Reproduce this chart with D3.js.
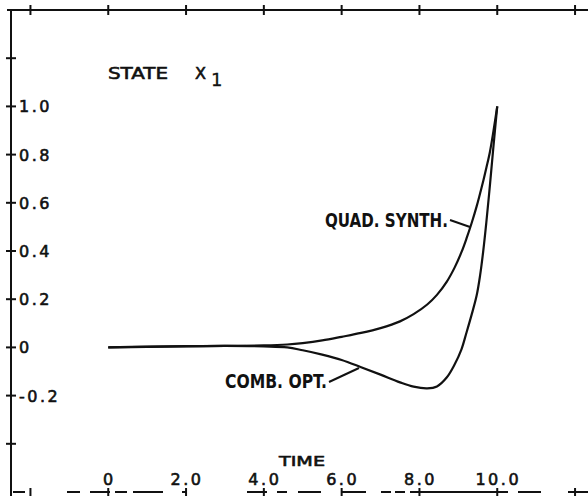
<!DOCTYPE html>
<html>
<head>
  <meta charset="utf-8">
  <script src="https://d3js.org/d3.v7.min.js"></script>
  <style>
    body { margin: 0; background: #fff; }
    svg { display: block; }
    .axis-line { stroke: #111; stroke-width: 2; fill: none; }
    .tick-mark { stroke: #111; stroke-width: 2; }
    .curve { fill: none; stroke: #111; stroke-width: 2.2; }
    .pointer { stroke: #111; stroke-width: 2; }
    .plot-text { font-family: "DejaVu Sans", sans-serif; fill: #111; stroke: #111; stroke-width: 0.6px; }
    .curve-label { font-family: "Liberation Sans Narrow", "DejaVu Sans Condensed", "Liberation Sans", sans-serif; font-weight: bold; fill: #111; }
  </style>
</head>
<body>
<script>
// time grid and the two state trajectories
var times     = [0, 1, 2, 3, 4, 4.6, 5, 5.5, 6, 6.5, 7, 7.5, 7.85, 8.2, 8.45, 8.7, 8.9, 9.08, 9.21, 9.34, 9.47, 9.56, 9.64, 9.72, 9.81, 9.9, 10];
var quadSynth = [0, 0.002, 0.004, 0.006, 0.008, 0.012, 0.018, 0.029, 0.044, 0.06, 0.08, 0.108, 0.138, 0.178, 0.218, 0.272, 0.33, 0.395, 0.452, 0.515, 0.585, 0.64, 0.69, 0.745, 0.81, 0.895, 1.0];
var combOpt   = [0, 0.003, 0.005, 0.006, 0.004, 0, -0.012, -0.03, -0.052, -0.082, -0.113, -0.145, -0.163, -0.17, -0.162, -0.125, -0.072, -0.008, 0.062, 0.135, 0.215, 0.3, 0.4, 0.52, 0.67, 0.83, 1.0];

var xTickValues = [0, 2, 4, 6, 8, 10];
var xTickLabels = ["0", "2.0", "4.0", "6.0", "8.0", "10.0"];
var xMarkValues = [-2, 0, 2, 4, 6, 8, 10, 12];
var yTickValues = [1.0, 0.8, 0.6, 0.4, 0.2, 0, -0.2];
var yTickLabels = ["1.0", "0.8", "0.6", "0.4", "0.2", "0", "-0.2"];
var yMarkValues = [1.2, 1.0, 0.8, 0.6, 0.4, 0.2, 0, -0.2, -0.4];

var width = 588,
    height = 496;

var svg = d3.select("body").append("svg")
    .attr("width", width)
    .attr("height", height);

var x = d3.scaleLinear()
    .domain([-2.5, 12.5])
    .range([11, 594.5]);

var y = d3.scaleLinear()
    .domain([-0.6, 1.4])
    .range([492, 10]);

// frame: top axis, left axis, broken bottom axis (old scan)
svg.append("line")
    .attr("class", "axis-line")
    .attr("x1", 7).attr("x2", width)
    .attr("y1", y(1.4)).attr("y2", y(1.4));

svg.append("line")
    .attr("class", "axis-line")
    .attr("x1", x(-2.5)).attr("x2", x(-2.5))
    .attr("y1", y(1.4) - 1).attr("y2", height);

svg.append("line")
    .attr("class", "axis-line")
    .attr("x1", 0).attr("x2", width)
    .attr("y1", y(-0.6)).attr("y2", y(-0.6))
    .attr("stroke-dasharray", "0 13 12 42 13 10 20 5 12 6 30 19 5 60 20 10 10 11 23 20 25 15 10 4 10 5 98 10 23 27 20");

// tick crosses on top axis
svg.selectAll(".xmark")
  .data(xMarkValues)
  .enter()
  .append("line")
    .attr("class", "tick-mark")
    .attr("x1", function(d) { return x(d); })
    .attr("x2", function(d) { return x(d); })
    .attr("y1", y(1.4) - 5)
    .attr("y2", y(1.4) + 5);

// small ticks on bottom axis
svg.selectAll(".bmark")
  .data(xMarkValues)
  .enter()
  .append("line")
    .attr("class", "tick-mark")
    .attr("x1", function(d) { return x(d); })
    .attr("x2", function(d) { return x(d); })
    .attr("y1", y(-0.6) - 4)
    .attr("y2", y(-0.6) + 4);

// tick crosses on left axis
svg.selectAll(".ymark")
  .data(yMarkValues)
  .enter()
  .append("line")
    .attr("class", "tick-mark")
    .attr("x1", x(-2.5) - 5)
    .attr("x2", x(-2.5) + 5)
    .attr("y1", function(d) { return y(d); })
    .attr("y2", function(d) { return y(d); });

svg.selectAll(".ylabel")
  .data(yTickValues)
  .enter()
  .append("text")
    .attr("class", "plot-text")
    .attr("x", 19)
    .attr("y", function(d) { return y(d); })
    .attr("dy", "0.37em")
    .style("font-size", "16px")
    .style("letter-spacing", "2.5px")
    .text(function(d, i) { return yTickLabels[i]; });

svg.selectAll(".xlabel")
  .data(xTickValues)
  .enter()
  .append("text")
    .attr("class", "plot-text")
    .attr("x", function(d) { return x(d) + 1; })
    .attr("y", 485)
    .attr("text-anchor", "middle")
    .style("font-size", "16px")
    .style("letter-spacing", "2.5px")
    .text(function(d, i) { return xTickLabels[i]; });

svg.append("text")
    .attr("class", "plot-text")
    .attr("x", 279)
    .attr("y", 466)
    .style("font-size", "14px")
    .attr("textLength", 46)
    .attr("lengthAdjust", "spacingAndGlyphs")
    .text("TIME");

var title = svg.append("text")
    .attr("class", "plot-text")
    .attr("x", 108)
    .attr("y", 79)
    .style("font-size", "16px");
title.append("tspan").attr("textLength", 60).attr("lengthAdjust", "spacingAndGlyphs").text("STATE");
title.append("tspan").attr("x", 195).text("X");
title.append("tspan").attr("x", 211).attr("dy", 7).style("font-size", "18px").style("stroke-width", "0.3px").text("1");

// trajectories
var line = d3.line()
    .x(function(d) { return x(d[0]); })
    .y(function(d) { return y(d[1]); })
    .curve(d3.curveCatmullRom.alpha(0.5));

svg.append("path")
    .datum(times.map(function(t, i) { return [t, quadSynth[i]]; }))
    .attr("class", "curve")
    .attr("d", line);

svg.append("path")
    .datum(times.map(function(t, i) { return [t, combOpt[i]]; }))
    .attr("class", "curve")
    .attr("d", line);

// curve labels with leader lines
svg.append("text")
    .attr("class", "curve-label")
    .attr("x", 325)
    .attr("y", 227)
    .style("font-size", "20px")
    .attr("textLength", 123)
    .attr("lengthAdjust", "spacingAndGlyphs")
    .text("QUAD. SYNTH.");

svg.append("line")
    .attr("class", "pointer")
    .attr("x1", 450).attr("y1", 220)
    .attr("x2", 470).attr("y2", 227);

svg.append("text")
    .attr("class", "curve-label")
    .attr("x", 225)
    .attr("y", 388)
    .style("font-size", "20px")
    .attr("textLength", 102)
    .attr("lengthAdjust", "spacingAndGlyphs")
    .text("COMB. OPT.");

svg.append("line")
    .attr("class", "pointer")
    .attr("x1", 329).attr("y1", 382)
    .attr("x2", 359).attr("y2", 368);
</script>
</body>
</html>
